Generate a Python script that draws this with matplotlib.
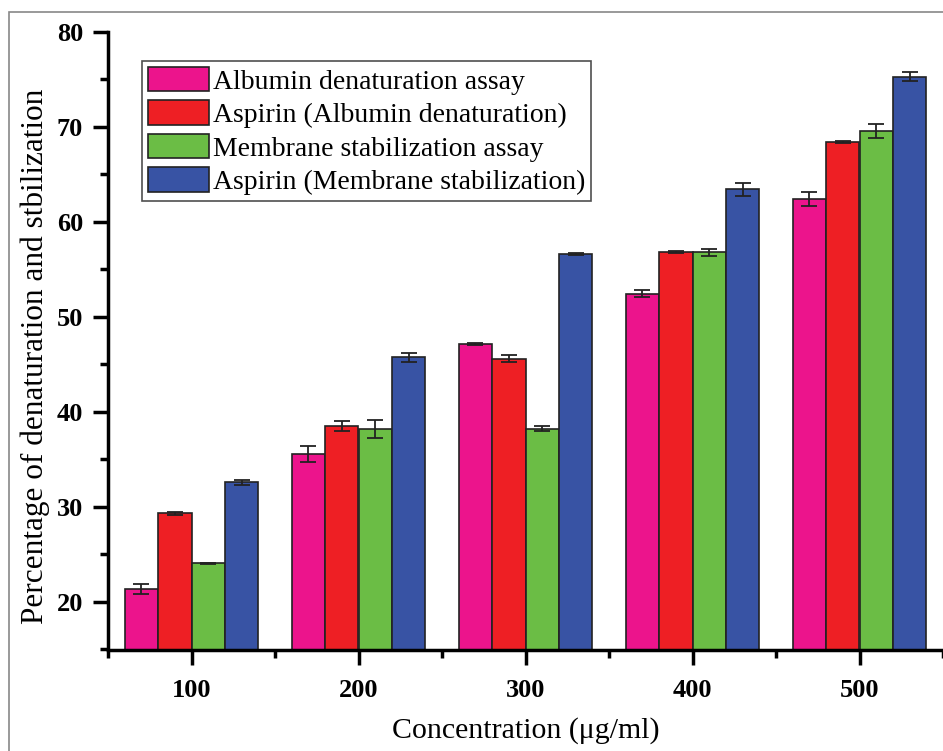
import matplotlib
matplotlib.use("Agg")
import matplotlib.pyplot as plt
import numpy as np
from matplotlib.patches import Rectangle
from matplotlib.ticker import MultipleLocator

concentrations = [100, 200, 300, 400, 500]
series_names = ["Albumin denaturation assay", "Aspirin (Albumin denaturation)",
                "Membrane stabilization assay", "Aspirin (Membrane stabilization)"]
albumin = [21.35, 35.6, 47.15, 52.45, 62.4]
albumin_err = [0.55, 0.85, 0.1, 0.35, 0.7]
aspirin_alb = [29.35, 38.5, 45.6, 56.8, 68.4]
aspirin_alb_err = [0.15, 0.5, 0.4, 0.1, 0.1]
membrane = [24.05, 38.2, 38.25, 56.8, 69.55]
membrane_err = [0.1, 0.9, 0.3, 0.37, 0.72]
aspirin_mem = [32.6, 45.75, 56.57, 63.4, 75.25]
aspirin_mem_err = [0.28, 0.45, 0.1, 0.72, 0.47]
colors = ["#EC148C", "#EE1F24", "#6BBD45", "#3853A4"]

plt.rcParams['font.family'] = ['Liberation Serif', 'DejaVu Serif']

fig = plt.figure(figsize=(9.43, 7.51), dpi=100)
W, H = 943, 751
ax = fig.add_axes([108 / W, 1 - 649.5 / H, (943 - 108) / W, (649.5 - 31.7) / H])

x = np.array(concentrations, dtype=float)
bw = 20
vals = [albumin, aspirin_alb, membrane, aspirin_mem]
errs = [albumin_err, aspirin_alb_err, membrane_err, aspirin_mem_err]
for i, (v, e, c, n) in enumerate(zip(vals, errs, colors, series_names)):
    ax.bar(x + (i - 1.5) * bw, v, width=bw, color=c, edgecolor="#222222",
           linewidth=1.2, label=n, zorder=2)
    ax.errorbar(x + (i - 1.5) * bw, v, yerr=e, fmt="none", ecolor="#222222",
                elinewidth=1.3, capsize=6, capthick=1.3, zorder=3)

ax.set_xlim(50, 550)
ax.set_ylim(15, 80)
ax.set_xticks(concentrations)
ax.xaxis.set_minor_locator(MultipleLocator(50))
ax.yaxis.set_major_locator(MultipleLocator(10))
ax.yaxis.set_minor_locator(MultipleLocator(5))
for s in ["top", "right"]:
    ax.spines[s].set_visible(False)
for s in ["left", "bottom"]:
    ax.spines[s].set_linewidth(2.5)
ax.tick_params(which="major", direction="out", length=11, width=2.5,
               labelsize=19, pad=7)
ax.tick_params(which="minor", direction="out", length=6, width=2.5)
ax.tick_params(axis="x", which="major", pad=10)
for lab in ax.get_xticklabels() + ax.get_yticklabels():
    lab.set_fontweight("bold")

ax.set_xlabel("Concentration (μg/ml)", fontsize=21.5, labelpad=11)
ax.set_ylabel("Percentage of denaturation and stbilization", fontsize=22.5,
              labelpad=5, y=0.475)

leg = ax.legend(loc="upper left", bbox_to_anchor=((142 - 108) / (943 - 108), 1 - (61 - 31.7) / (649.5 - 31.7)),
                fontsize=20, frameon=True, fancybox=False, edgecolor="#222222",
                handlelength=2.2, handleheight=1.0, handletextpad=0.15,
                labelspacing=0.2, borderpad=0.2, borderaxespad=0)
leg.get_frame().set_linewidth(1.2)

fig.patches.append(Rectangle((9 / W, -0.1), 1.2, 1 - 12 / H + 0.1,
                             transform=fig.transFigure, fill=False,
                             edgecolor="#888888", linewidth=1.2))

fig.savefig("out.png", dpi=100)
